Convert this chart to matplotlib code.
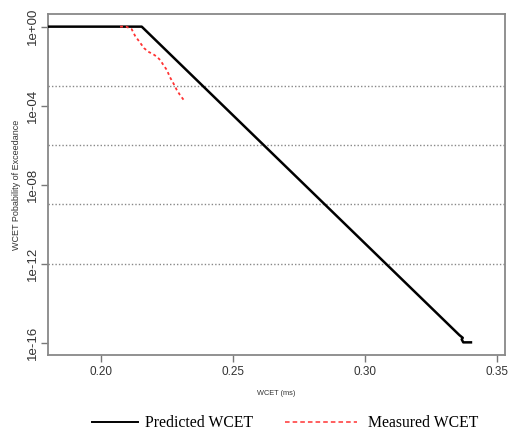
import matplotlib
matplotlib.use("Agg")
import matplotlib.pyplot as plt
import numpy as np

# predicted exceedance curve (x in ms, log10 of probability)
pred_x = [0.180, 0.2155, 0.3358, 0.3371, 0.3367, 0.3373, 0.3402]
pred_logp = [0.0, 0.0, -15.61, -15.75, -15.83, -15.98, -15.98]

# measured exceedance curve
meas_x = [0.2073, 0.2096, 0.2117, 0.2130, 0.2146, 0.2164, 0.2180, 0.2199,
          0.2212, 0.2225, 0.2237, 0.2250, 0.2262, 0.2275, 0.2288, 0.2300, 0.2319]
meas_logp = [0.0, 0.0, -0.13, -0.47, -0.76, -1.09, -1.27, -1.40,
             -1.52, -1.69, -1.94, -2.19, -2.56, -2.87, -3.21, -3.46, -3.80]

yticks = [1e0, 1e-4, 1e-8, 1e-12, 1e-16]
ytick_labels = ["1e+00", "1e-04", "1e-08", "1e-12", "1e-16"]
xticks = [0.20, 0.25, 0.30, 0.35]
xtick_labels = ["0.20", "0.25", "0.30", "0.35"]
grid_levels = [1e-3, 1e-6, 1e-9, 1e-12]

fig = plt.figure(figsize=(5.11, 4.36), dpi=100)
ax = fig.add_axes([48/511, 81/436, 457/511, 341/436])

for g in grid_levels:
    ax.axhline(g, color="#888888", lw=1.0, ls=(0, (1, 1.5)), zorder=1)

pred_line, = ax.plot(pred_x, 10.0 ** np.array(pred_logp), color="black",
                     lw=1.8, zorder=3)
meas_line, = ax.plot(meas_x, 10.0 ** np.array(meas_logp), color="#ff3333",
                     lw=1.3, ls=(0, (1.6, 1.6)), zorder=4)

ax.set_yscale("log")
ax.set_xlim(0.18, 0.3531)
ax.set_ylim(10 ** -16.62, 10 ** 0.64)
ax.minorticks_off()
ax.set_yticks(yticks)
ax.set_yticklabels(ytick_labels, rotation=90, va="center",
                   family="Liberation Sans", fontsize=9.5, color="#333333")
ax.set_xticks(xticks)
ax.set_xticklabels(xtick_labels, family="Liberation Sans", fontsize=8.5,
                   color="#333333")
ax.tick_params(length=5, width=1.0, color="#777777")
ax.tick_params(axis="y", pad=1.5)
ax.tick_params(axis="x", pad=3)

for s in ax.spines.values():
    s.set_color("#888888")
    s.set_linewidth(1.3)

fig.text(276/511, 1 - 393/436, "WCET (ms)", ha="center", va="center",
         family="Liberation Sans", fontsize=5.3, color="#333333")
fig.text(17/511, 1 - 185/436, "WCET Pobability of Exceedance", rotation=90,
         ha="center", va="center", family="Liberation Sans", fontsize=6.5,
         color="#333333")

# two separate legend entries, each with its own handle length
leg_font = {"family": "Liberation Serif", "size": 11.3}
leg1 = fig.legend([pred_line], ["Predicted WCET"], loc="center left",
                  bbox_to_anchor=(92/511, 1 - 423/436), frameon=False,
                  prop=leg_font, handlelength=2.9, handletextpad=0.5,
                  borderpad=0, borderaxespad=0)
leg2 = fig.legend([meas_line], ["Measured WCET"], loc="center left",
                  bbox_to_anchor=(285/511, 1 - 423/436), frameon=False,
                  prop=leg_font, handlelength=4.6, handletextpad=0.7,
                  borderpad=0, borderaxespad=0)
leg1.get_lines()[0].set_linewidth(1.4)
leg2.get_lines()[0].set_linestyle((0, (3, 2)))
leg2.get_lines()[0].set_linewidth(1.1)

fig.savefig("out.png", dpi=100)
